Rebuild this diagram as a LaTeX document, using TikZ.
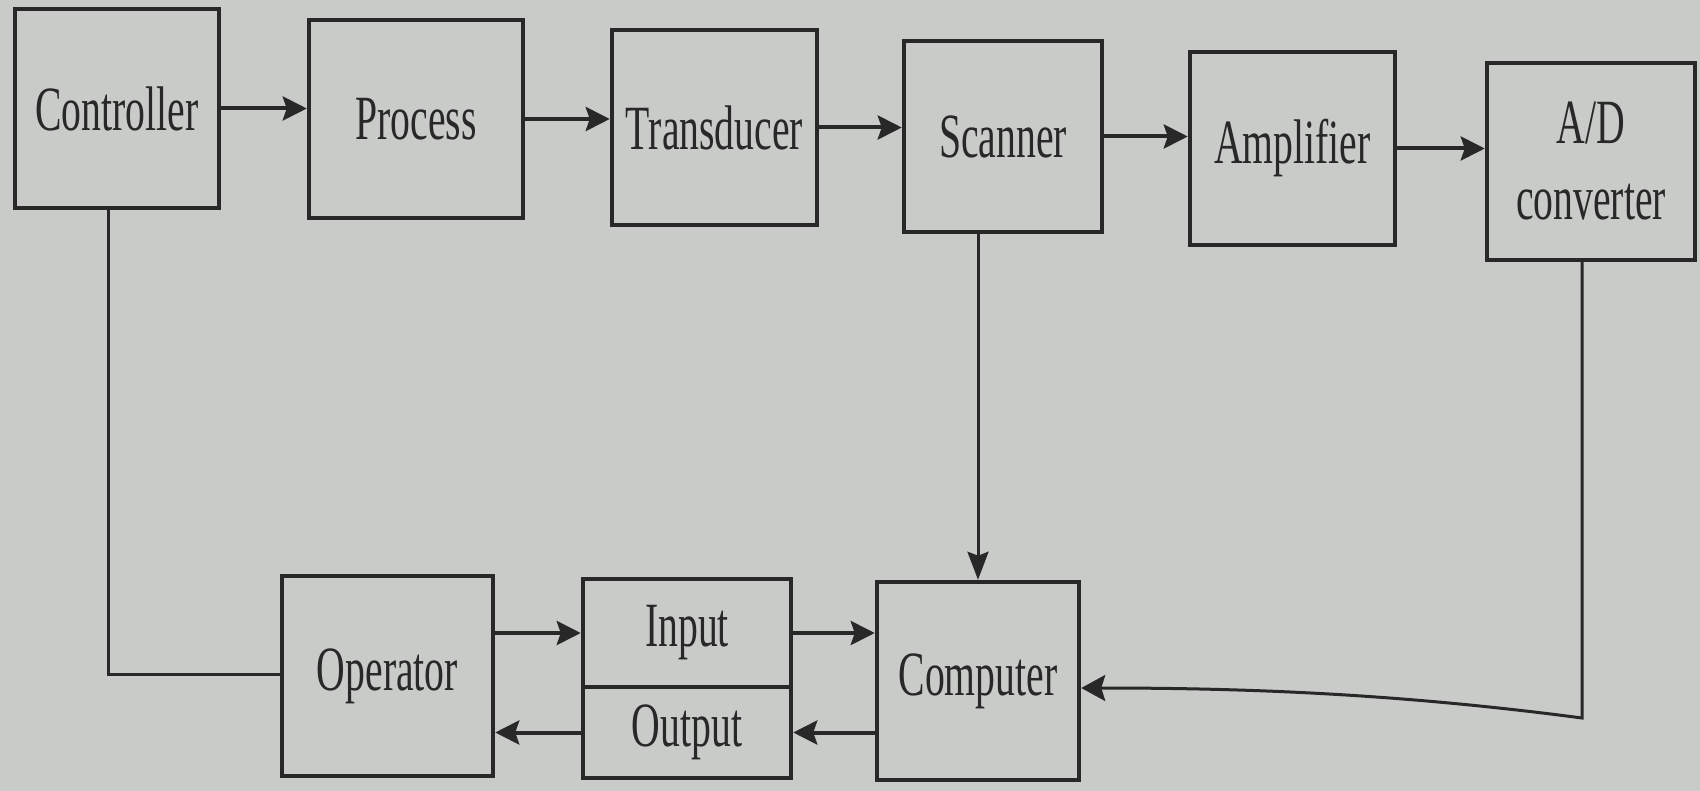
\documentclass[tikz,border=0pt]{standalone}
\usepackage{fontspec}
\setmainfont{Liberation Serif}[FakeStretch=0.63]
\usetikzlibrary{arrows.meta}
\definecolor{paper}{RGB}{200,203,200}
\definecolor{ink}{RGB}{40,40,40}
\begin{document}
\begin{tikzpicture}[x=1pt,y=-1pt,
  blk/.style={draw=ink, line width=4.5pt, fill=paper, text=ink, inner sep=0pt,
    font=\fontsize{63}{76}\selectfont, align=center},
  arr/.style={draw=ink, line width=4pt, -{Stealth[length=24pt,width=24pt,inset=4pt]}},
  varr/.style={draw=ink, line width=3pt, -{Stealth[length=28pt,width=21pt,inset=4pt]}},
  wire/.style={draw=ink, line width=3pt}]
\fill[paper] (0,0) rectangle (1700,791);
\useasboundingbox (0,0) rectangle (1700,791);
% top row
\node[blk, minimum width=204pt, minimum height=199pt] (ctrl) at (117,108.5) {Controller};
\node[blk, minimum width=214pt, minimum height=198pt] (proc) at (416,119) {Process};
\node[blk, minimum width=205pt, minimum height=195pt] (trans) at (714.5,127.5) {Transducer};
\node[blk, minimum width=198pt, minimum height=191pt] (scan) at (1003,136.5) {Scanner};
\node[blk, minimum width=205pt, minimum height=193pt] (amp) at (1292.5,148.5) {Amplifier};
\node[blk, minimum width=208pt, minimum height=197pt] (adc) at (1591,161.5) {A/D\\converter};
% bottom row
\node[blk, minimum width=211pt, minimum height=200pt] (op) at (387.5,676) {Operator};
\node[blk, minimum width=208pt, minimum height=108pt] (in) at (687,633) {Input};
\node[blk, minimum width=208pt, minimum height=91pt] (out) at (687,732.5) {Output};
\node[blk, minimum width=202pt, minimum height=198pt] (comp) at (978,681) {Computer};
% top-row arrows
\draw[arr] (ctrl.east) -- (ctrl.east -| proc.west);
\draw[arr] (proc.east) -- (proc.east -| trans.west);
\draw[arr] (trans.east) -- (trans.east -| scan.west);
\draw[arr] (scan.east) -- (scan.east -| amp.west);
\draw[arr] (amp.east) -- (amp.east -| adc.west);
% bottom-row arrows
\draw[arr] (in.west -| op.east) -- (in.west);
\draw[arr] (in.east) -- (in.east -| comp.west);
\draw[arr] (out.east -| comp.west) -- (out.east);
\draw[arr] (out.west) -- (out.west -| op.east);
% scanner to computer
\draw[varr] (comp.north |- scan.south) -- (comp.north);
% A/D to computer
\coordinate (k) at (1582,718);
\draw[wire, -{Stealth[length=24pt,width=26pt,inset=4pt]}] (k |- adc.south) -- (k)
  .. controls (1400,694) and (1250,688) .. ([yshift=-7pt]comp.east);
% controller to operator
\coordinate (c) at (108,674);
\draw[wire] (c |- ctrl.south) -- (c) -- (c -| op.west);
\end{tikzpicture}
\end{document}
